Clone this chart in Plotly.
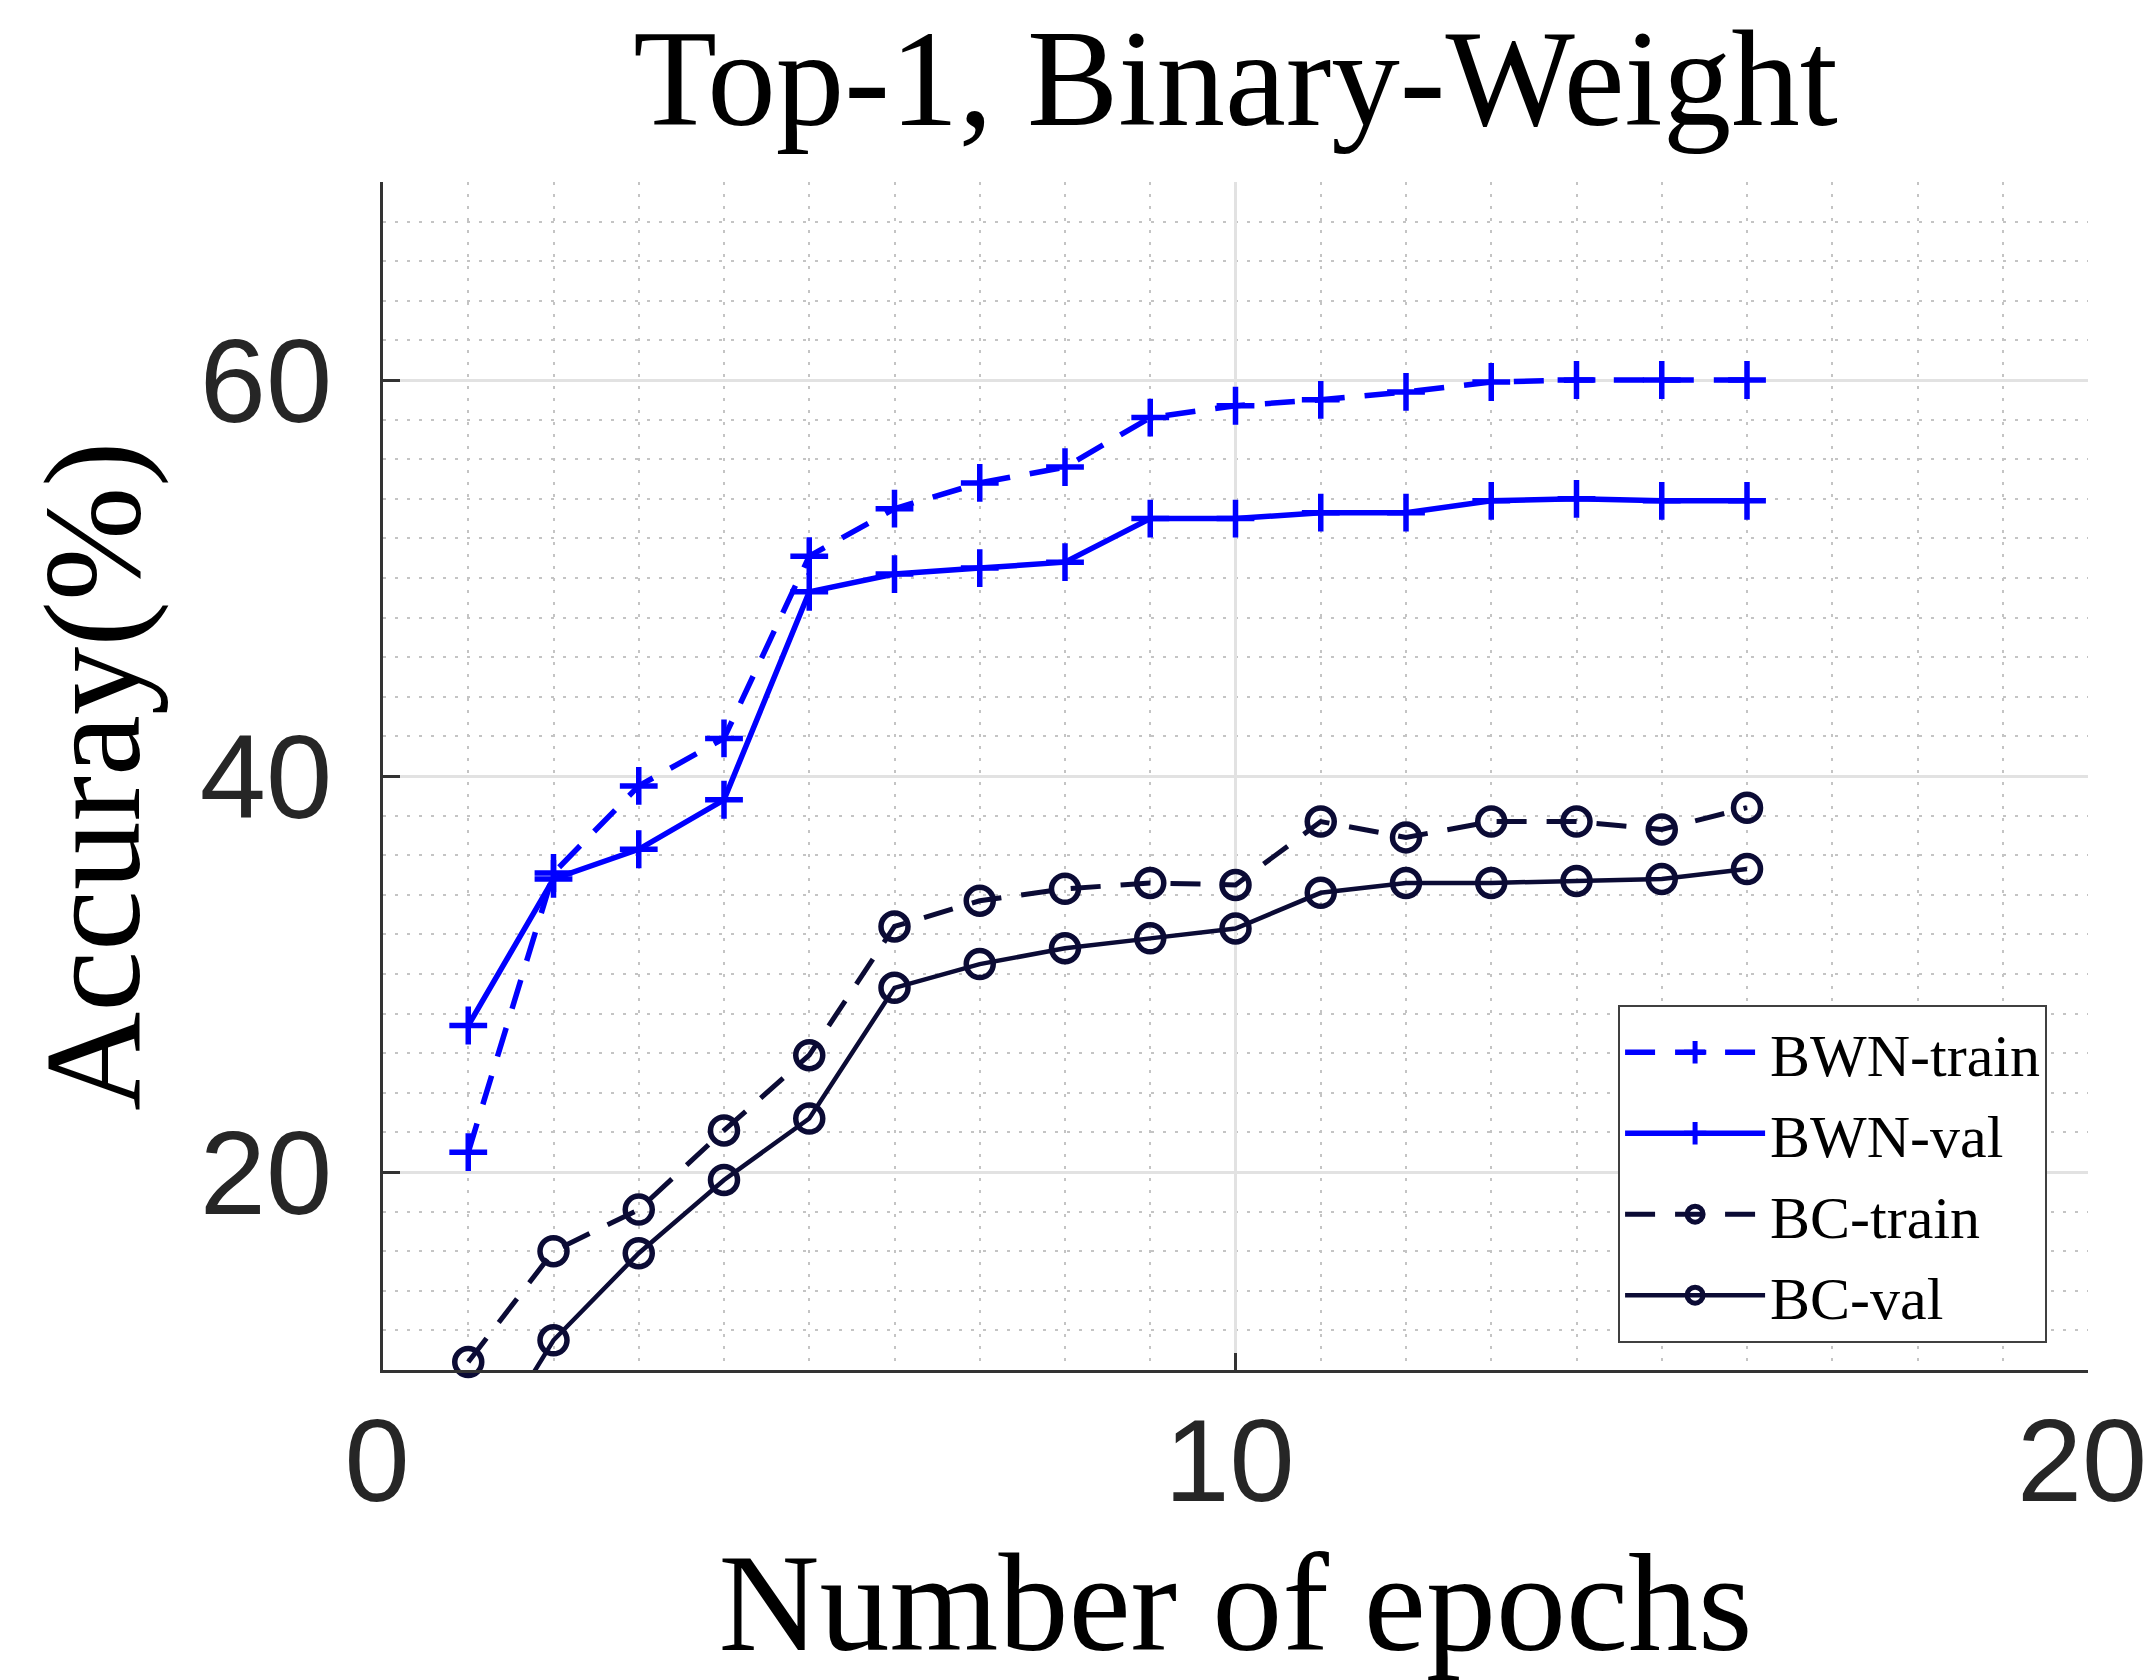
import plotly.graph_objects as go

# ---- data ----
epochs = list(range(1, 17))
bwn_train = [21.0, 35.1, 39.5, 41.9, 51.1, 53.5, 54.8, 55.6, 58.1, 58.7, 59.0, 59.4, 59.9, 60.0, 60.0, 60.0]
bwn_val = [27.4, 34.8, 36.3, 38.8, 49.3, 50.2, 50.5, 50.8, 53.0, 53.0, 53.3, 53.3, 53.9, 54.0, 53.9, 53.9]
bc_train = [10.4, 16.0, 18.1, 22.1, 25.9, 32.4, 33.7, 34.3, 34.6, 34.5, 37.7, 36.9, 37.7, 37.7, 37.3, 38.4]
bc_val = [4.5, 11.5, 15.9, 19.6, 22.7, 29.3, 30.5, 31.3, 31.8, 32.3, 34.1, 34.6, 34.6, 34.7, 34.8, 35.3]

x_ticks = [0, 10, 20]
y_ticks = [20, 40, 60]

BLUE = "#0000ff"
NAVY = "#0b0b35"
DASH = "30px,20px"
SERIF = "Liberation Serif"
SANS = "Liberation Sans"

fig = go.Figure()

fig.add_trace(go.Scatter(
    x=epochs, y=bwn_train, name="BWN-train", mode="lines+markers",
    line=dict(color=BLUE, width=5.5, dash=DASH),
    marker=dict(symbol="cross-thin", size=27, color=BLUE, line=dict(color=BLUE, width=5.5)),
))
fig.add_trace(go.Scatter(
    x=epochs, y=bwn_val, name="BWN-val", mode="lines+markers",
    line=dict(color=BLUE, width=5.5),
    marker=dict(symbol="cross-thin", size=27, color=BLUE, line=dict(color=BLUE, width=5.5)),
))
fig.add_trace(go.Scatter(
    x=epochs, y=bc_train, name="BC-train", mode="lines+markers",
    line=dict(color=NAVY, width=5, dash=DASH),
    marker=dict(symbol="circle-open", size=27, color=NAVY, line=dict(color=NAVY, width=5.5)),
    cliponaxis=False,
))
fig.add_trace(go.Scatter(
    x=epochs, y=bc_val, name="BC-val", mode="lines+markers",
    line=dict(color=NAVY, width=4.5),
    marker=dict(symbol="circle-open", size=27, color=NAVY, line=dict(color=NAVY, width=5.5)),
))

axis_common = dict(
    ticks="inside", ticklen=17, tickwidth=3, tickcolor="#333333",
    showline=True, linecolor="#333333", linewidth=3, mirror=False,
    showgrid=True, gridcolor="#e2e2e2", gridwidth=3,
    zeroline=False, ticklabeloverflow="allow",
)

fig.update_xaxes(
    range=[0, 20], tickvals=x_ticks, ticktext=[str(v) for v in x_ticks],
    minor=dict(dtick=1, tick0=0, showgrid=True, gridcolor="#c4c4c4", gridwidth=2,
               griddash="3px,9px", ticks=""),
    title=dict(text="Number of epochs", font=dict(family=SERIF, size=140, color="#000000"), standoff=52),
    ticklabelstandoff=-12, ticklabelshift=-6,
    tickfont=dict(family=SANS, size=117, color="#262626"),
    **axis_common,
)
fig.update_yaxes(
    range=[10, 70], tickvals=y_ticks, ticktext=[str(v) for v in y_ticks],
    minor=dict(dtick=2, tick0=0, showgrid=True, gridcolor="#c4c4c4", gridwidth=2,
               griddash="3px,9px", ticks=""),
    title=dict(text="Accuray(%)", font=dict(family=SERIF, size=137, color="#000000"), standoff=14),
    ticklabelstandoff=24,
    tickfont=dict(family=SANS, size=119, color="#262626"),
    **axis_common,
)

fig.update_layout(
    width=2147, height=1680,
    margin=dict(l=383, r=59, t=182, b=310, autoexpand=False),
    paper_bgcolor="white", plot_bgcolor="white",
    title=dict(text="Top-1, Binary-Weight", x=0.5, xref="paper", xanchor="center",
               y=1 - 77.0 / 1680, yref="container", yanchor="middle",
               font=dict(family=SERIF, size=137, color="#000000")),
    legend=dict(
        x=0.976, xanchor="right", y=0.023, yanchor="bottom",
        bgcolor="white", bordercolor="#404040", borderwidth=2,
        font=dict(family=SERIF, size=60, color="#000000"),
        itemwidth=140, tracegroupgap=0,
    ),
    showlegend=True,
)

fig.write_html("out.html", config={"displayModeBar": False},
               post_script="document.body.style.margin='0';")
